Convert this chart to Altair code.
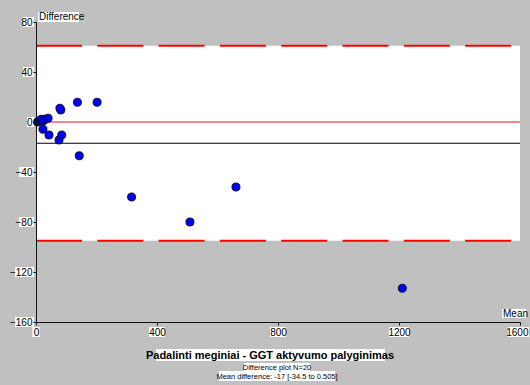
import altair as alt
import pandas as pd

# ---- data ----
mean_vals = [5, 10, 14, 17.5, 23, 31, 40, 23, 43, 76, 85, 82, 79, 137, 202, 143, 316, 509, 661, 1211]
diff_vals = [0, 0.8, 1, 2.2, 0.8, 2.2, 3, -5.8, -10.4, -14.4, -10.4, 9.6, 11, 15.8, 15.8, -27, -60, -80, -52, -133]
x_ticks = [0, 400, 800, 1200, 1600]
y_ticks = [-160, -120, -80, -40, 0, 40, 80]
mean_diff = [-17]
limits = [-95, 61]
zero_line = [0]
title_text = "Padalinti meginiai - GGT aktyvumo palyginimas"
subtitle_lines = ["Difference plot N=20", "Mean difference: -17 [-34.5 to 0.505]"]
y_title = "Difference"
x_title = "Mean"

FONT = "Liberation Sans Narrow, Arial Narrow, Liberation Sans, Arial, sans-serif"
W, H = 484, 300
FIRST, LAST = x_ticks[0], x_ticks[-1]

pts = pd.DataFrame({"mean": mean_vals, "diff": diff_vals})
dummy = pd.DataFrame({"a": [0]})

xscale = alt.Scale(domain=[FIRST, LAST], nice=False, zero=False)
yscale = alt.Scale(domain=[y_ticks[0], y_ticks[-1]], nice=False, zero=False)

# white band between limits of agreement
band = alt.Chart(dummy).mark_rect(color="white").encode(
    x=alt.datum(FIRST, type="quantitative", scale=xscale),
    x2=alt.datum(LAST),
    y=alt.datum(limits[0], type="quantitative", scale=yscale),
    y2=alt.datum(limits[1]),
)

layers = [band]

# white boxes behind y tick labels
for v in y_ticks:
    n = len(str(v))
    w = 4 * n + 3
    layers.append(
        alt.Chart(dummy).mark_rect(color="white", yOffset=-5, y2Offset=5).encode(
            x=alt.value(-2 - w), x2=alt.value(-2),
            y=alt.datum(v, type="quantitative", scale=yscale), y2=alt.datum(v),
        )
    )
# white boxes behind x tick labels
for v in x_ticks:
    n = len(str(v))
    w = 4.3 * n + 3
    if v == LAST:
        off0, off1 = 8 - w, 9
    else:
        off0, off1 = -w / 2, w / 2
    layers.append(
        alt.Chart(dummy).mark_rect(color="white", xOffset=off0, x2Offset=off1).encode(
            x=alt.datum(v, type="quantitative", scale=xscale), x2=alt.datum(v),
            y=alt.value(H + 5), y2=alt.value(H + 15),
        )
    )

# boxes for free texts
def box(x0, x1, y0, y1):
    return alt.Chart(dummy).mark_rect(color="white").encode(
        x=alt.value(x0), x2=alt.value(x1), y=alt.value(y0), y2=alt.value(y1))

layers += [
    box(2, 43, -10, 0),
    box(466, 490, H - 13, H - 4),
    box(120, 349, H + 27, H + 39),
    box(208, 274, H + 41, H + 49),
    box(183, 299, H + 49, H + 59),
]

# reference lines (drawn left to right)
def hline(vals, **kw):
    return alt.Chart(pd.DataFrame({"y": vals})).mark_rule(**kw).encode(
        x=alt.datum(FIRST, type="quantitative", scale=xscale),
        x2=alt.datum(LAST),
        y=alt.Y("y:Q", scale=yscale))

layers += [
    hline(zero_line, color="#f06060", strokeWidth=1.5),
    hline(mean_diff, color="black", strokeWidth=1),
    hline(limits, color="#ff0000", strokeWidth=2, strokeDash=[46, 15.3]),
]

points = alt.Chart(pts).mark_point(
    shape="circle", filled=True, fill="#0000ff", stroke="black", strokeWidth=0.8, size=65, opacity=1
).encode(
    x=alt.X("mean:Q", scale=xscale, axis=alt.Axis(
        values=x_ticks, format="d", title=None, grid=False, domainColor="#111111",
        tickColor="#111111", tickSize=3, labelFont=FONT, labelFontSize=10, labelColor="black",
        labelPadding=2, labelFlush=False, labelOverlap=False, zindex=1,
        labelAlign=alt.ExprRef(f"datum.value >= {LAST} ? 'right' : 'center'"),
        labelOffset=alt.ExprRef(f"datum.value >= {LAST} ? 8 : 0"))),
    y=alt.Y("diff:Q", scale=yscale, axis=alt.Axis(
        values=y_ticks, format="d", title=None, grid=False, domainColor="#111111",
        tickColor="#111111", tickSize=3, labelFont=FONT, labelFontSize=10, labelColor="black",
        labelPadding=1, labelFlush=False, labelOverlap=False, zindex=1)),
)
layers.append(points)

def txt(s, x, y, size, align="left", bold=False):
    return alt.Chart(dummy).mark_text(
        font=FONT, fontSize=size, align=align, baseline="alphabetic", color="black",
        fontWeight="bold" if bold else "normal"
    ).encode(x=alt.value(x), y=alt.value(y), text=alt.value(s))

layers += [
    txt(y_title, 3, -2, 10),
    txt(x_title, 467, H - 5, 10),
    txt(title_text, 234, H + 37, 11, align="center", bold=True),
    txt(subtitle_lines[0], 241, H + 48, 7.5, align="center"),
    txt(subtitle_lines[1], 241, H + 57, 7.5, align="center"),
]

chart = alt.layer(*layers).properties(
    width=W, height=H,
    padding={"left": 36, "top": 22, "right": 10, "bottom": 63},
    autosize=alt.AutoSizeParams(type="none"),
    background="#c0c0c0",
).configure_view(stroke=None)

chart.save("out.html", embed_options={"renderer": "svg", "actions": False})
